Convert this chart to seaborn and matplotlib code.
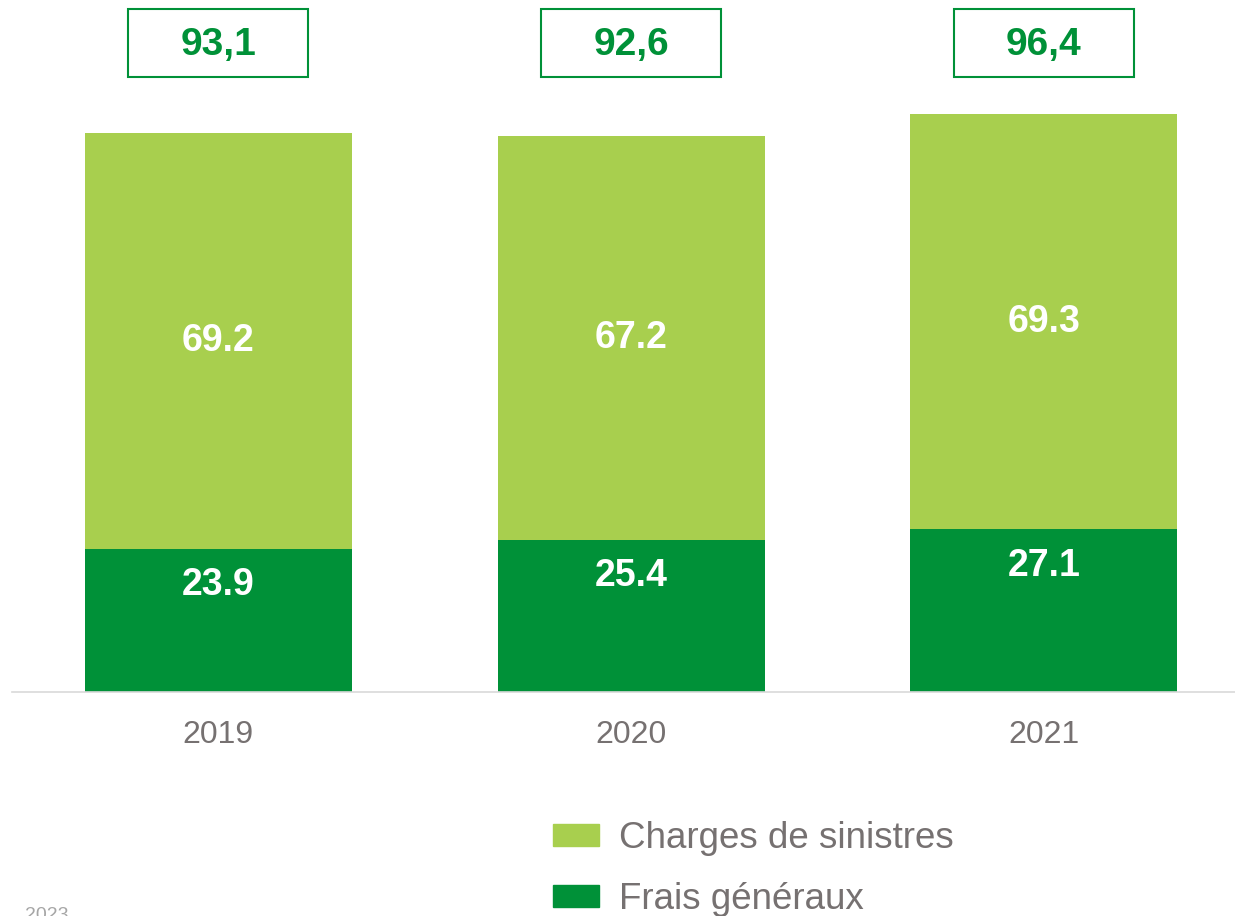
import seaborn as sns
import pandas as pd
import matplotlib.pyplot as plt
from matplotlib.patches import Rectangle, Patch

sns.set_theme(style="white")
plt.rcParams['font.family'] = ['Liberation Sans', 'DejaVu Sans']

years = ["2019", "2020", "2021"]
frais = [23.9, 25.4, 27.1]
charges = [69.2, 67.2, 69.3]
totals = ["93,1", "92,6", "96,4"]

dark = "#009138"
light = "#A8CF4E"
grey = "#767171"

df = pd.DataFrame({"year": years, "frais": frais, "charges": charges})
df["total"] = df["frais"] + df["charges"]

fig = plt.figure(figsize=(12.35, 9.16), dpi=100)
ax = fig.add_axes([12 / 1235, 224 / 916, 1 - 12 / 1235, 692 / 916])

sns.barplot(data=df, x="year", y="total", color=light, width=0.647,
            saturation=1, linewidth=0, ax=ax)
sns.barplot(data=df, x="year", y="frais", color=dark, width=0.647,
            saturation=1, linewidth=0, ax=ax)

ax.set_xlim(-0.5, 2.463)
ax.set_ylim(0, 692 / 6.0)

for i, row in df.iterrows():
    ax.text(i, row["frais"] + row["charges"] / 2, f"{row['charges']:.1f}",
            ha="center", va="center", color="white", fontsize=27,
            fontweight="bold")
    ax.text(i, row["frais"] - 6.1, f"{row['frais']:.1f}",
            ha="center", va="center", color="white", fontsize=27,
            fontweight="bold")
    # boxed totals above the bars
    ax.add_patch(Rectangle((i - 0.218, 102.5), 0.436, 11.3, fill=False,
                           edgecolor=dark, lw=1.5, clip_on=False))
    ax.text(i, 107.9, totals[i], ha="center", va="center", color=dark,
            fontsize=28, fontweight="bold")

for s in ["left", "right", "top"]:
    ax.spines[s].set_visible(False)
ax.spines["bottom"].set_color("#D9D9D9")
ax.spines["bottom"].set_linewidth(1.2)
ax.set_yticks([])
ax.set_xlabel("")
ax.set_ylabel("")
ax.tick_params(axis="x", length=0, pad=20, labelsize=23, labelcolor=grey)

handles = [Patch(color=light, label="Charges de sinistres"),
           Patch(color=dark, label="Frais généraux")]
fig.legend(handles=handles, loc="upper left",
           bbox_to_anchor=(553 / 1235, 1 - 821 / 916),
           frameon=False, fontsize=26.5, labelcolor=grey, handlelength=1.25,
           handleheight=0.55, handletextpad=0.55, labelspacing=0.7,
           borderpad=0, borderaxespad=0)

fig.text(25 / 1235, -8 / 916, "2023", color="#A6A6A6", fontsize=14,
         ha="left", va="bottom")

fig.savefig("out.png", dpi=100)
